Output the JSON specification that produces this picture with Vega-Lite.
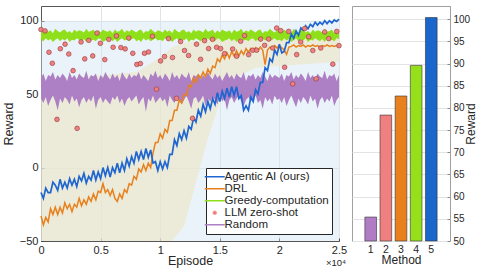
{
"$schema": "https://vega.github.io/schema/vega-lite/v6.json",
"padding": {"left": 1, "top": 5, "right": 2, "bottom": 2},
"bounds": "flush",
"spacing": 13,
"config": {
  "font": "Liberation Sans",
  "axis": {"labelFont": "Liberation Sans", "titleFont": "Liberation Sans", "labelColor": "#262626", "titleColor": "#262626", "titleFontWeight": "normal", "gridColor": "#e3e3e3", "tickColor": "#444", "domainColor": "#555"},
  "legend": {"labelFont": "Liberation Sans", "labelColor": "#262626"},
  "view": {"stroke": "#555"}
},
"datasets": {
  "main": [
{"e":0,"a":-17,"d":-33,"gl":87,"gh":93,"rl":47,"rh":61},
{"e":200,"a":-21,"d":-39,"gl":86,"gh":92,"rl":44,"rh":64},
{"e":400,"a":-14,"d":-34,"gl":88,"gh":94,"rl":48,"rh":59},
{"e":600,"a":-17,"d":-37,"gl":86.5,"gh":92.5,"rl":42,"rh":63},
{"e":800,"a":-17,"d":-28,"gl":87.5,"gh":93.5,"rl":46,"rh":62},
{"e":1000,"a":-10,"d":-32,"gl":85.5,"gh":91.5,"rl":49,"rh":65},
{"e":1200,"a":-12,"d":-27,"gl":87,"gh":94.5,"rl":45,"rh":60},
{"e":1400,"a":-15.5,"d":-32,"gl":88,"gh":93,"rl":39,"rh":63},
{"e":1600,"a":-8,"d":-27,"gl":86,"gh":92,"rl":47,"rh":61},
{"e":1800,"a":-14,"d":-31,"gl":87.5,"gh":93.5,"rl":44,"rh":64},
{"e":2000,"a":-10,"d":-24,"gl":86.5,"gh":94,"rl":48,"rh":62},
{"e":2200,"a":-14,"d":-28,"gl":88,"gh":92,"rl":46,"rh":59},
{"e":2400,"a":-7.5,"d":-25,"gl":85.5,"gh":93,"rl":43,"rh":65},
{"e":2600,"a":-12,"d":-30,"gl":87,"gh":91.5,"rl":49,"rh":61},
{"e":2800,"a":-8,"d":-25,"gl":86.5,"gh":94,"rl":45,"rh":63},
{"e":3000,"a":-13,"d":-27,"gl":88,"gh":92.5,"rl":47,"rh":60},
{"e":3200,"a":-6,"d":-21,"gl":87,"gh":93.5,"rl":41,"rh":64},
{"e":3400,"a":-9,"d":-26,"gl":86,"gh":93,"rl":46,"rh":62},
{"e":3600,"a":-4,"d":-22,"gl":87.5,"gh":92,"rl":48,"rh":61},
{"e":3800,"a":-10.5,"d":-25,"gl":85.5,"gh":94.5,"rl":44,"rh":66},
{"e":4000,"a":-6,"d":-20,"gl":88,"gh":92.5,"rl":47,"rh":60},
{"e":4200,"a":-8.5,"d":-23,"gl":86.5,"gh":93,"rl":45,"rh":63},
{"e":4400,"a":-2,"d":-18,"gl":87,"gh":94,"rl":49,"rh":62},
{"e":4600,"a":-8.5,"d":-22,"gl":86,"gh":91.5,"rl":40,"rh":64},
{"e":4800,"a":-3,"d":-16,"gl":88,"gh":93.5,"rl":46,"rh":59},
{"e":5000,"a":-7.5,"d":-17,"gl":87.5,"gh":92,"rl":48,"rh":63},
{"e":5200,"a":0,"d":-11,"gl":85.5,"gh":94,"rl":44,"rh":61},
{"e":5400,"a":-5.5,"d":-17,"gl":86.5,"gh":93,"rl":47,"rh":65},
{"e":5600,"a":0,"d":-15,"gl":87,"gh":92.5,"rl":45,"rh":62},
{"e":5800,"a":-6.5,"d":-19,"gl":88,"gh":93.5,"rl":43,"rh":60},
{"e":6000,"a":0,"d":-15,"gl":86,"gh":91.5,"rl":48,"rh":64},
{"e":6200,"a":-3.5,"d":-21,"gl":87.5,"gh":94,"rl":46,"rh":61},
{"e":6400,"a":3,"d":-23,"gl":85.5,"gh":92.5,"rl":49,"rh":63},
{"e":6600,"a":-3.5,"d":-18,"gl":87,"gh":93,"rl":44,"rh":59},
{"e":6800,"a":3,"d":-21,"gl":88,"gh":94.5,"rl":47,"rh":65},
{"e":7000,"a":-2,"d":-15,"gl":86.5,"gh":92,"rl":42,"rh":62},
{"e":7200,"a":6,"d":-17,"gl":87,"gh":93.5,"rl":46,"rh":60},
{"e":7400,"a":1,"d":-11,"gl":86,"gh":92.5,"rl":48,"rh":64},
{"e":7600,"a":7.5,"d":-12,"gl":87.5,"gh":94,"rl":45,"rh":61},
{"e":7800,"a":3,"d":-6,"gl":88,"gh":93,"rl":47,"rh":63},
{"e":8000,"a":11,"d":-8,"gl":86,"gh":92,"rl":49,"rh":62},
{"e":8200,"a":5.5,"d":-1,"gl":87,"gh":93.5,"rl":43,"rh":65},
{"e":8400,"a":11,"d":-3,"gl":85.5,"gh":94,"rl":46,"rh":60},
{"e":8600,"a":5.5,"d":2,"gl":88,"gh":91.5,"rl":48,"rh":63},
{"e":8800,"a":13,"d":-2,"gl":86.5,"gh":93,"rl":38,"rh":61},
{"e":9000,"a":7,"d":3,"gl":87.5,"gh":92.5,"rl":47,"rh":59},
{"e":9200,"a":12,"d":0,"gl":86,"gh":94.5,"rl":45,"rh":64},
{"e":9400,"a":3,"d":10,"gl":87,"gh":93,"rl":49,"rh":62},
{"e":9600,"a":4,"d":17,"gl":88,"gh":92,"rl":44,"rh":66},
{"e":9800,"a":-2,"d":17,"gl":86.5,"gh":93.5,"rl":46,"rh":61},
{"e":10000,"a":4,"d":23,"gl":87,"gh":93,"rl":48,"rh":63},
{"e":10200,"a":-1,"d":20,"gl":86,"gh":92,"rl":45,"rh":60},
{"e":10400,"a":4,"d":26,"gl":88,"gh":94,"rl":47,"rh":64},
{"e":10600,"a":0,"d":24,"gl":86.5,"gh":92.5,"rl":41,"rh":62},
{"e":10800,"a":9,"d":32,"gl":87.5,"gh":93.5,"rl":49,"rh":59},
{"e":11000,"a":9,"d":32,"gl":85.5,"gh":91.5,"rl":46,"rh":65},
{"e":11200,"a":19,"d":39,"gl":87,"gh":94.5,"rl":44,"rh":61},
{"e":11400,"a":15,"d":39,"gl":88,"gh":93,"rl":48,"rh":63},
{"e":11600,"a":23,"d":46,"gl":86,"gh":92,"rl":47,"rh":60},
{"e":11800,"a":19,"d":44,"gl":87.5,"gh":93.5,"rl":43,"rh":64},
{"e":12000,"a":25,"d":50,"gl":86.5,"gh":94,"rl":46,"rh":62},
{"e":12200,"a":20,"d":49,"gl":88,"gh":92,"rl":49,"rh":61},
{"e":12400,"a":28,"d":56,"gl":85.5,"gh":93,"rl":45,"rh":65},
{"e":12600,"a":26,"d":55,"gl":87,"gh":91.5,"rl":40,"rh":59},
{"e":12800,"a":34,"d":61,"gl":86.5,"gh":94,"rl":47,"rh":63},
{"e":13000,"a":31,"d":58,"gl":88,"gh":92.5,"rl":48,"rh":62},
{"e":13200,"a":39,"d":63,"gl":87,"gh":93.5,"rl":44,"rh":64},
{"e":13400,"a":35,"d":61,"gl":86,"gh":93,"rl":46,"rh":60},
{"e":13600,"a":43,"d":65,"gl":87.5,"gh":92,"rl":49,"rh":63},
{"e":13800,"a":38,"d":62,"gl":85.5,"gh":94.5,"rl":42,"rh":61},
{"e":14000,"a":45,"d":67,"gl":88,"gh":92.5,"rl":47,"rh":65},
{"e":14200,"a":40,"d":64,"gl":86.5,"gh":93,"rl":45,"rh":62},
{"e":14400,"a":47,"d":69,"gl":87,"gh":94,"rl":48,"rh":60},
{"e":14600,"a":43,"d":68,"gl":86,"gh":91.5,"rl":46,"rh":64},
{"e":14800,"a":51,"d":74,"gl":88,"gh":93.5,"rl":43,"rh":61},
{"e":15000,"a":45,"d":72,"gl":87.5,"gh":92,"rl":49,"rh":63},
{"e":15200,"a":52,"d":76.5,"gl":85.5,"gh":94,"rl":45,"rh":59},
{"e":15400,"a":47,"d":74,"gl":86.5,"gh":93,"rl":47,"rh":62},
{"e":15600,"a":54,"d":78,"gl":87,"gh":92.5,"rl":39,"rh":65},
{"e":15800,"a":48,"d":74.5,"gl":88,"gh":93.5,"rl":46,"rh":61},
{"e":16000,"a":55,"d":79,"gl":86,"gh":91.5,"rl":48,"rh":63},
{"e":16200,"a":49,"d":76,"gl":87.5,"gh":94,"rl":44,"rh":60},
{"e":16400,"a":55,"d":79.5,"gl":85.5,"gh":92.5,"rl":47,"rh":64},
{"e":16600,"a":47,"d":76,"gl":87,"gh":93,"rl":49,"rh":62},
{"e":16800,"a":49,"d":79.5,"gl":88,"gh":94.5,"rl":45,"rh":61},
{"e":17000,"a":39,"d":77,"gl":86.5,"gh":92,"rl":42,"rh":65},
{"e":17200,"a":42,"d":81,"gl":87,"gh":93.5,"rl":46,"rh":59},
{"e":17400,"a":39,"d":78.5,"gl":86,"gh":92.5,"rl":48,"rh":63},
{"e":17600,"a":48,"d":81,"gl":87.5,"gh":94,"rl":45,"rh":62},
{"e":17800,"a":45,"d":79,"gl":88,"gh":93,"rl":47,"rh":64},
{"e":18000,"a":53,"d":81.5,"gl":86,"gh":92,"rl":49,"rh":60},
{"e":18200,"a":50,"d":79.5,"gl":87,"gh":93.5,"rl":44,"rh":63},
{"e":18400,"a":58,"d":82,"gl":85.5,"gh":94,"rl":46,"rh":61},
{"e":18600,"a":58,"d":80,"gl":88,"gh":91.5,"rl":40,"rh":65},
{"e":18800,"a":68,"d":70,"gl":86.5,"gh":93,"rl":48,"rh":62},
{"e":19000,"a":66,"d":80,"gl":87.5,"gh":92.5,"rl":45,"rh":59},
{"e":19200,"a":74,"d":82,"gl":86,"gh":94.5,"rl":47,"rh":64},
{"e":19400,"a":72,"d":81,"gl":87,"gh":93,"rl":43,"rh":61},
{"e":19600,"a":80,"d":83,"gl":88,"gh":92,"rl":49,"rh":63},
{"e":19800,"a":77,"d":81.5,"gl":86.5,"gh":93.5,"rl":46,"rh":62},
{"e":20000,"a":84,"d":83,"gl":87,"gh":93,"rl":47,"rh":61},
{"e":20200,"a":78,"d":81.5,"gl":86,"gh":92,"rl":44,"rh":64},
{"e":20400,"a":79,"d":80,"gl":88,"gh":94,"rl":48,"rh":59},
{"e":20600,"a":85,"d":77,"gl":86.5,"gh":92.5,"rl":42,"rh":63},
{"e":20800,"a":85,"d":82,"gl":87.5,"gh":93.5,"rl":46,"rh":62},
{"e":21000,"a":91,"d":82.5,"gl":85.5,"gh":91.5,"rl":49,"rh":65},
{"e":21200,"a":88,"d":83.5,"gl":87,"gh":94.5,"rl":45,"rh":60},
{"e":21400,"a":93,"d":82,"gl":88,"gh":93,"rl":41,"rh":63},
{"e":21600,"a":90,"d":83,"gl":86,"gh":92,"rl":47,"rh":61},
{"e":21800,"a":95,"d":82.5,"gl":87.5,"gh":93.5,"rl":44,"rh":64},
{"e":22000,"a":93.5,"d":83.5,"gl":86.5,"gh":94,"rl":48,"rh":62},
{"e":22200,"a":96.5,"d":82,"gl":88,"gh":92,"rl":46,"rh":59},
{"e":22400,"a":94.5,"d":83,"gl":85.5,"gh":93,"rl":43,"rh":65},
{"e":22600,"a":97.5,"d":82.5,"gl":87,"gh":91.5,"rl":49,"rh":61},
{"e":22800,"a":96,"d":83.5,"gl":86.5,"gh":94,"rl":45,"rh":63},
{"e":23000,"a":99,"d":82.5,"gl":88,"gh":92.5,"rl":47,"rh":60},
{"e":23200,"a":97,"d":83,"gl":87,"gh":93.5,"rl":40,"rh":64},
{"e":23400,"a":99,"d":82,"gl":86,"gh":93,"rl":46,"rh":62},
{"e":23600,"a":97.5,"d":83,"gl":87.5,"gh":92,"rl":48,"rh":61},
{"e":23800,"a":100,"d":82.5,"gl":85.5,"gh":94.5,"rl":44,"rh":66},
{"e":24000,"a":98,"d":83.5,"gl":88,"gh":92.5,"rl":47,"rh":60},
{"e":24200,"a":100,"d":82.5,"gl":86.5,"gh":93,"rl":45,"rh":63},
{"e":24400,"a":98.5,"d":83,"gl":87,"gh":94,"rl":49,"rh":62},
{"e":24600,"a":100.5,"d":82.5,"gl":86,"gh":91.5,"rl":42,"rh":64},
{"e":24800,"a":99.5,"d":83,"gl":88,"gh":93.5,"rl":46,"rh":59},
{"e":25000,"a":101,"d":82.5,"gl":87.5,"gh":92,"rl":48,"rh":63}
  ],
  "llm": [
    {"e":0,"v":94},{"e":340,"v":93},{"e":670,"v":78.5},{"e":950,"v":71},{"e":1340,"v":32.8},{"e":1620,"v":80.9},{"e":2020,"v":84},{"e":2330,"v":77.3},
    {"e":2690,"v":66},{"e":3030,"v":26.7},{"e":3360,"v":85.5},{"e":3670,"v":74},{"e":4010,"v":86.6},{"e":4340,"v":76},{"e":4700,"v":91.6},{"e":4980,"v":84.6},
    {"e":5350,"v":73.5},{"e":5690,"v":87.3},{"e":6050,"v":81.9},{"e":6330,"v":89.6},{"e":6700,"v":81.7},{"e":7060,"v":80.8},{"e":7370,"v":88.2},{"e":7700,"v":77.8},
    {"e":8040,"v":70.2},{"e":8340,"v":70.8},{"e":8680,"v":77.8},{"e":9020,"v":78.7},{"e":9350,"v":89.4},{"e":9690,"v":53.4},{"e":10030,"v":72.6},{"e":10360,"v":75.6},
    {"e":10700,"v":87.8},{"e":11030,"v":74.9},{"e":11370,"v":47.1},{"e":11710,"v":85.8},{"e":12040,"v":79.7},{"e":12380,"v":76.3},{"e":12710,"v":33.5},{"e":13050,"v":84},
    {"e":13390,"v":73.7},{"e":13720,"v":86.4},{"e":14060,"v":81},{"e":14390,"v":87.3},{"e":14730,"v":81.9},{"e":15070,"v":81},{"e":15400,"v":77.6},{"e":16080,"v":80.7},
    {"e":16410,"v":75.8},{"e":16750,"v":86},{"e":17080,"v":89.8},{"e":17420,"v":76.9},{"e":17760,"v":79.9},{"e":18090,"v":79.9},{"e":18430,"v":87.5},{"e":18760,"v":83.2},
    {"e":19100,"v":87.5},{"e":19440,"v":81.4},{"e":19770,"v":95},{"e":20110,"v":93.2},{"e":20440,"v":68.3},{"e":20780,"v":92.7},{"e":21120,"v":57},{"e":21450,"v":76.9},
    {"e":21790,"v":85.5},{"e":22120,"v":94.6},{"e":22460,"v":89.1},{"e":22800,"v":79.7},{"e":23080,"v":60.4},{"e":23470,"v":81.4},{"e":23800,"v":92.3},{"e":24140,"v":87.8},
    {"e":24480,"v":70.4},{"e":24810,"v":92.7},{"e":25000,"v":83}
  ],
  "bg": [
    {"e":0,"bl":-50,"bh":100,"yl":-50,"yh":60},{"e":4000,"bl":-50,"bh":100,"yl":-50,"yh":62},{"e":8000,"bl":-50,"bh":100,"yl":-50,"yh":65},
    {"e":10000,"bl":-50,"bh":100,"yl":-50,"yh":75},{"e":11000,"bl":-50,"bh":100,"yl":-50,"yh":82},{"e":12000,"bl":-50,"bh":100,"yl":-40,"yh":85},
    {"e":13000,"bl":-50,"bh":100,"yl":-10,"yh":86},{"e":14000,"bl":-50,"bh":100,"yl":20,"yh":87},{"e":15000,"bl":-50,"bh":100,"yl":45,"yh":88},
    {"e":16000,"bl":-50,"bh":100,"yl":60,"yh":88},{"e":18000,"bl":-50,"bh":100,"yl":68,"yh":88},{"e":25000,"bl":-50,"bh":100,"yl":72,"yh":88}
  ],
  "bars": [{"m":1,"v":55.4},{"m":2,"v":78.4},{"m":3,"v":82.7},{"m":4,"v":89.6},{"m":5,"v":100.4}]
},
"hconcat": [
  {
    "width": 298, "height": 235,
    "layer": [
      {"data": {"name": "bg"}, "mark": {"type": "area", "color": "#d3e5f5", "opacity": 0.45},
       "encoding": {
         "x": {"field": "e", "type": "quantitative", "scale": {"domain": [0, 25000], "nice": false},
               "axis": {"values": [0, 5000, 10000, 15000, 20000, 25000], "labelExpr": "datum.value / 10000", "title": "Episode", "titleFontSize": 12.5, "labelFontSize": 11, "tickSize": -3, "labelPadding": 6, "titlePadding": -1, "grid": true, "labelFlush": false}},
         "y": {"field": "bl", "type": "quantitative", "scale": {"domain": [-50, 110], "nice": false},
               "axis": {"values": [-50, 0, 50, 100], "title": "Reward", "titleFontSize": 12.5, "labelFontSize": 11, "tickSize": -3, "labelPadding": 6, "titlePadding": 4, "grid": true}},
         "y2": {"field": "bh"}}},
      {"data": {"name": "bg"}, "mark": {"type": "area", "color": "#ece6c8", "opacity": 0.65},
       "encoding": {"x": {"field": "e", "type": "quantitative"}, "y": {"field": "yl", "type": "quantitative"}, "y2": {"field": "yh"}}},
      {"data": {"name": "main"}, "mark": {"type": "area", "color": "#ad7fc4", "opacity": 1},
       "encoding": {"x": {"field": "e", "type": "quantitative"}, "y": {"field": "rl", "type": "quantitative"}, "y2": {"field": "rh"}}},
      {"data": {"name": "main"}, "mark": {"type": "area", "color": "#8fe01a", "opacity": 1},
       "encoding": {"x": {"field": "e", "type": "quantitative"}, "y": {"field": "gl", "type": "quantitative"}, "y2": {"field": "gh"}}},
      {"data": {"name": "main"}, "mark": {"type": "line", "strokeWidth": 1.5},
       "encoding": {"x": {"field": "e", "type": "quantitative"}, "y": {"field": "d", "type": "quantitative"},
         "color": {"datum": "d", "type": "nominal",
           "scale": {"domain": ["a", "d", "g", "l", "r"], "range": ["#1f66d1", "#e8801e", "#8fe01a", "#f08080", "#ad7fc4"]},
           "legend": {"orient": "bottom-right", "offset": 7, "title": null, "fillColor": "white", "strokeColor": "#262626", "padding": 3,
             "labelFontSize": 11.5, "labelLimit": 300, "labelOffset": 4, "rowPadding": -2.3, "symbolType": "stroke", "symbolSize": 400, "symbolStrokeWidth": 1.5,
             "labelExpr": "datum.value == 'a' ? 'Agentic AI (ours)' : datum.value == 'd' ? 'DRL' : datum.value == 'g' ? 'Greedy-computation' : datum.value == 'l' ? 'LLM zero-shot' : 'Random'",
             "encode": {"symbols": {"update": {
               "shape": {"signal": "datum.value == 'l' ? 'circle' : 'stroke'"},
               "size": {"signal": "datum.value == 'l' ? 14 : 400"},
               "fill": {"signal": "datum.value == 'l' ? '#f08080' : 'transparent'"},
               "stroke": {"signal": "datum.value == 'a' ? '#1f66d1' : datum.value == 'd' ? '#e8801e' : datum.value == 'g' ? '#8fe01a' : datum.value == 'l' ? '#9a3b3b' : '#ad7fc4'"},
               "strokeWidth": {"signal": "datum.value == 'l' ? 0.5 : 1.5"},
               "opacity": {"value": 1}}}}}}}},
      {"data": {"name": "main"}, "mark": {"type": "line", "strokeWidth": 1.7},
       "encoding": {"x": {"field": "e", "type": "quantitative"}, "y": {"field": "a", "type": "quantitative"}, "color": {"datum": "a", "type": "nominal"}}},
      {"data": {"name": "llm"}, "mark": {"type": "point", "filled": true, "size": 22, "stroke": "#8e3535", "strokeWidth": 0.6, "opacity": 1},
       "encoding": {"x": {"field": "e", "type": "quantitative"}, "y": {"field": "v", "type": "quantitative"}, "color": {"datum": "l", "type": "nominal"}}},
      {"data": {"values": [{"t": "×10⁴"}]}, "mark": {"type": "text", "fontSize": 9.5, "dy": 22, "dx": -3, "align": "center", "baseline": "middle", "color": "#262626"},
       "encoding": {"x": {"datum": 25000, "type": "quantitative"}, "y": {"datum": -50, "type": "quantitative"}, "text": {"field": "t"}}}
    ]
  },
  {
    "width": 98, "height": 235,
    "view": {"stroke": "#a0a0a0"},
    "data": {"name": "bars"},
    "mark": {"type": "bar", "stroke": "#333", "strokeWidth": 0.6},
    "encoding": {
      "x": {"field": "m", "type": "ordinal", "scale": {"paddingInner": 0.23, "paddingOuter": 0.85},
            "axis": {"title": "Method", "titleFontSize": 12, "labelFontSize": 10.5, "labelAngle": 0, "ticks": false, "domain": false, "labelPadding": 3, "titlePadding": 0}},
      "y": {"field": "v", "type": "quantitative", "scale": {"domain": [50, 103], "nice": false, "zero": false},
            "axis": {"orient": "right", "values": [50, 55, 60, 65, 70, 75, 80, 85, 90, 95, 100], "title": "Reward", "titleAngle": 270, "titleFontSize": 12, "labelFontSize": 10, "tickSize": -3, "labelPadding": 6, "titlePadding": 8, "grid": true, "domainColor": "#a0a0a0", "tickColor": "#888"}},
      "y2": {"datum": 50},
      "color": {"field": "m", "type": "ordinal", "scale": {"domain": [1, 2, 3, 4, 5], "range": ["#b07cc6", "#f08080", "#e8801e", "#95e01a", "#1a66cc"]}, "legend": null}
    }
  }
],
"resolve": {"scale": {"color": "independent"}, "legend": {"color": "independent"}}
}
